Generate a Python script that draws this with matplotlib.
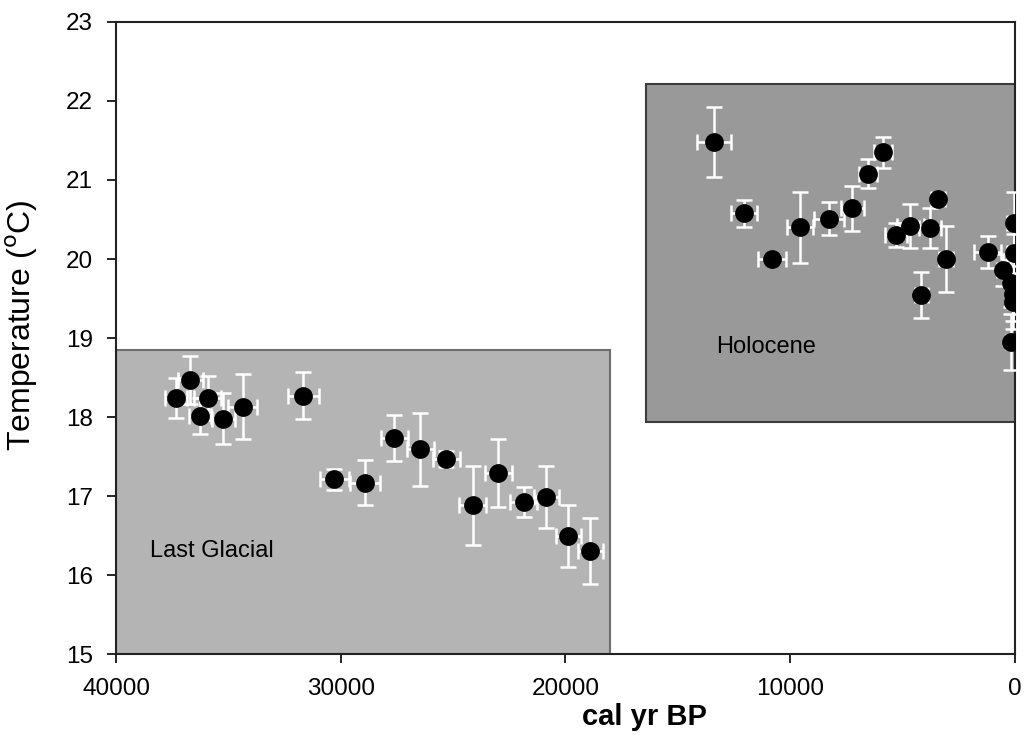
import numpy as np
import matplotlib.pyplot as plt
from matplotlib.patches import Rectangle

plt.rcParams['font.family'] = ['Liberation Sans', 'DejaVu Sans']

# Last Glacial samples
glacial_age = [37330, 36690, 35920, 36270, 35220, 34360, 31660, 30280, 28920,
               27620, 26460, 25300, 24130, 23000, 21860, 20850, 19880, 18890]
glacial_temp = [18.24, 18.47, 18.24, 18.01, 17.98, 18.13, 18.27, 17.21, 17.17,
                17.73, 17.59, 17.47, 16.88, 17.29, 16.93, 16.99, 16.49, 16.30]
glacial_terr = [0.25, 0.30, 0.28, 0.23, 0.32, 0.41, 0.30, 0.13, 0.28,
                0.29, 0.46, 0.10, 0.50, 0.43, 0.19, 0.39, 0.39, 0.42]
glacial_aerr = [500, 550, 600, 500, 500, 650, 700, 650, 650,
                600, 600, 600, 600, 600, 600, 550, 550, 550]

# Holocene samples
holo_age = [13390, 12060, 10820, 9560, 8260, 7230, 6530, 5890, 5290, 4660,
            3790, 3420, 3070, 4160, 1220, 60, 60, 520, 180, 100, 100, 180]
holo_temp = [21.48, 20.58, 20.00, 20.40, 20.51, 20.64, 21.08, 21.35, 20.30, 20.42,
             20.39, 20.76, 20.00, 19.54, 20.09, 20.45, 20.07, 19.86, 19.69, 19.56,
             19.46, 18.95]
holo_terr = [0.44, 0.17, 0.05, 0.45, 0.21, 0.29, 0.18, 0.20, 0.15, 0.28,
             0.25, 0.05, 0.42, 0.29, 0.20, 0.40, 0.25, 0.20, 0.30, 0.35,
             0.35, 0.35]
holo_aerr = [740, 590, 630, 590, 670, 500, 400, 400, 500, 600,
             500, 300, 300, 300, 590, 300, 300, 300, 200, 200, 200, 200]

fig = plt.figure(figsize=(10.25, 7.38), dpi=100)
ax = fig.add_axes([0.1132, 0.1138, 0.8770, 0.8564])

# period boxes
ax.add_patch(Rectangle((40000, 15), -22000, 3.85, facecolor='#b4b4b4',
                       edgecolor='#6e6e6e', linewidth=1.5, zorder=1))
ax.add_patch(Rectangle((16400, 17.94), -16400, 4.27, facecolor='#999999',
                       edgecolor='#3c3c3c', linewidth=1.5, zorder=1))

for age, temp, terr, aerr in [(glacial_age, glacial_temp, glacial_terr, glacial_aerr),
                              (holo_age, holo_temp, holo_terr, holo_aerr)]:
    ax.errorbar(age, temp, yerr=terr, xerr=aerr, fmt='o', color='black',
                ecolor='white', elinewidth=1.8, capsize=6, capthick=1.8,
                markersize=12.5, zorder=3)

ax.text(38500, 16.3, 'Last Glacial', fontsize=17, va='center', ha='left', zorder=4)
ax.text(13300, 18.88, 'Holocene', fontsize=17, va='center', ha='left', zorder=4)

ax.set_xlim(40000, 0)
ax.set_ylim(15, 23)
ax.set_xticks([40000, 30000, 20000, 10000, 0])
ax.set_yticks(range(15, 24))
ax.tick_params(direction='out', length=6.5, width=1.2, labelsize=17.5, top=False, right=False)
ax.tick_params(axis='x', pad=11)
ax.tick_params(axis='y', pad=10)
for s in ax.spines.values():
    s.set_linewidth(1.5)
    s.set_color('#222222')

ax.set_xlabel('cal yr BP', fontsize=21, fontweight='bold')
ax.xaxis.set_label_coords(0.588, -0.0775)
ax.set_ylabel('Temperature ($^{\\rm o}$C)', fontsize=23)
ax.yaxis.set_label_coords(-0.085, 0.52)

fig.savefig('out.png', dpi=100)
